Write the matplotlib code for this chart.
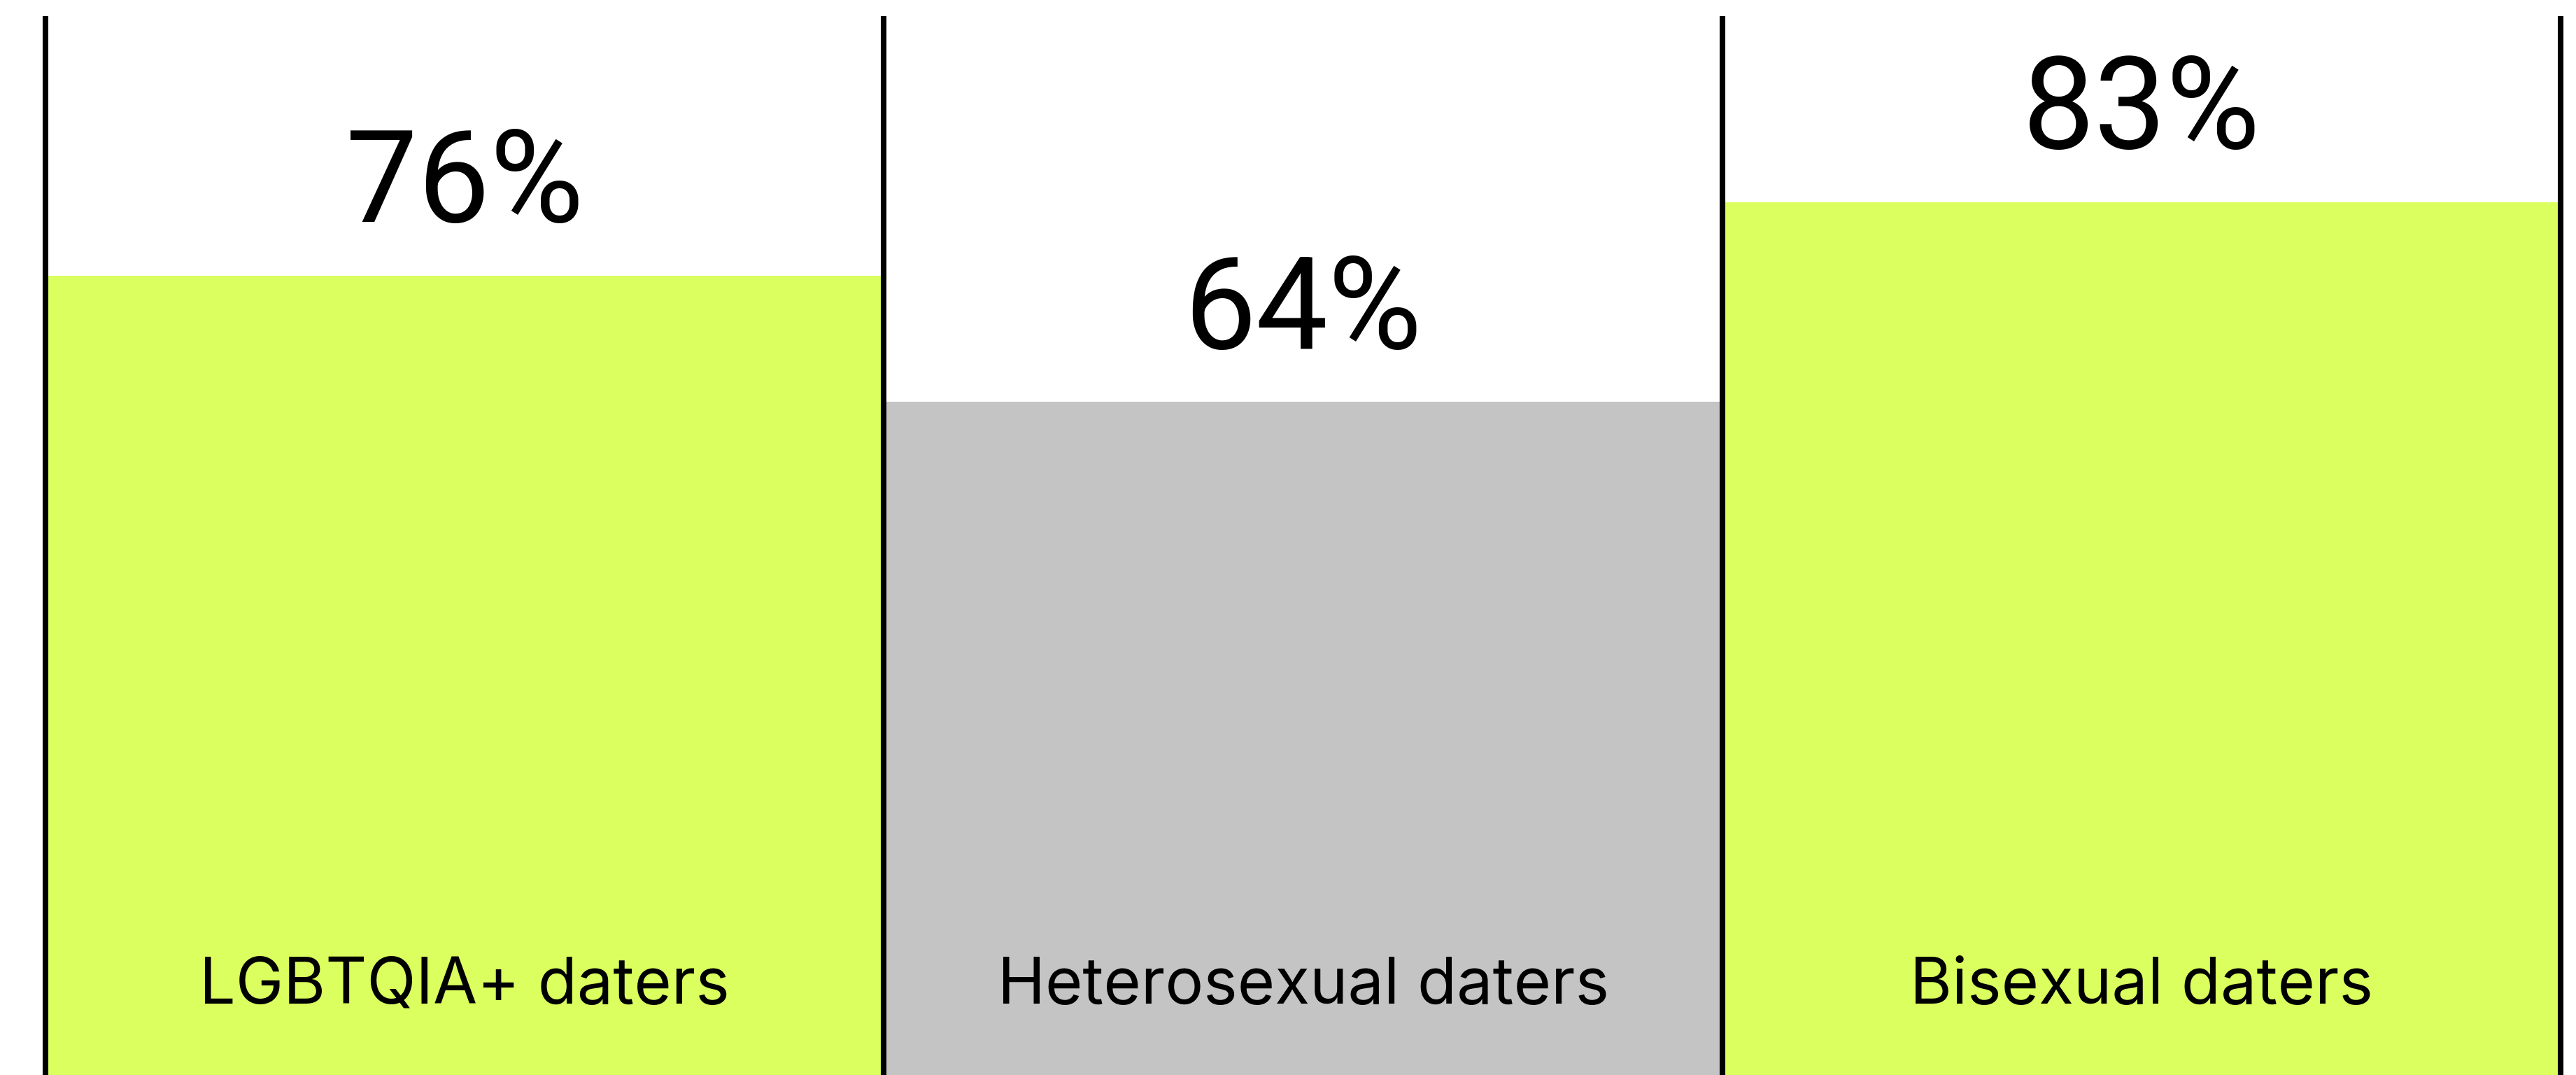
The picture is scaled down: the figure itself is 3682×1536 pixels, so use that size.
import matplotlib.pyplot as plt

# data
groups = ["LGBTQIA+ daters", "Heterosexual daters", "Bisexual daters"]
shares = [76, 64, 83]
labels = ["76%", "64%", "83%"]
colors = ["#DAFF5E", "#C4C4C4", "#DAFF5E"]

plt.rcParams['font.family'] = ['Inter', 'DejaVu Sans']

fig = plt.figure(figsize=(36.82, 15.36), dpi=100)
ax = fig.add_axes([0, 0, 1, 1])

x = list(range(len(groups)))
ax.bar(x, shares, width=1.0, bottom=0, color=colors, linewidth=0, zorder=1)

# separators between the columns
edges = [i - 0.5 for i in x] + [x[-1] + 0.5]
ax.vlines(edges, -1, 100.7, color="black", linewidth=5.8, zorder=3)

for i, v in enumerate(shares):
    ax.annotate(labels[i], (x[i], v), xytext=(0, 55), textcoords="offset points",
                ha="center", va="baseline", fontsize=132, color="black",
                family=["Roboto", "DejaVu Sans"])
    ax.text(x[i], 6.8, groups[i], ha="center", va="baseline",
            fontsize=66, color="black")

ax.set_xlim(-0.554, 2.518)
ax.set_ylim(0, 102.2)
ax.axis("off")

fig.savefig("out.png", dpi=100, facecolor="white")
